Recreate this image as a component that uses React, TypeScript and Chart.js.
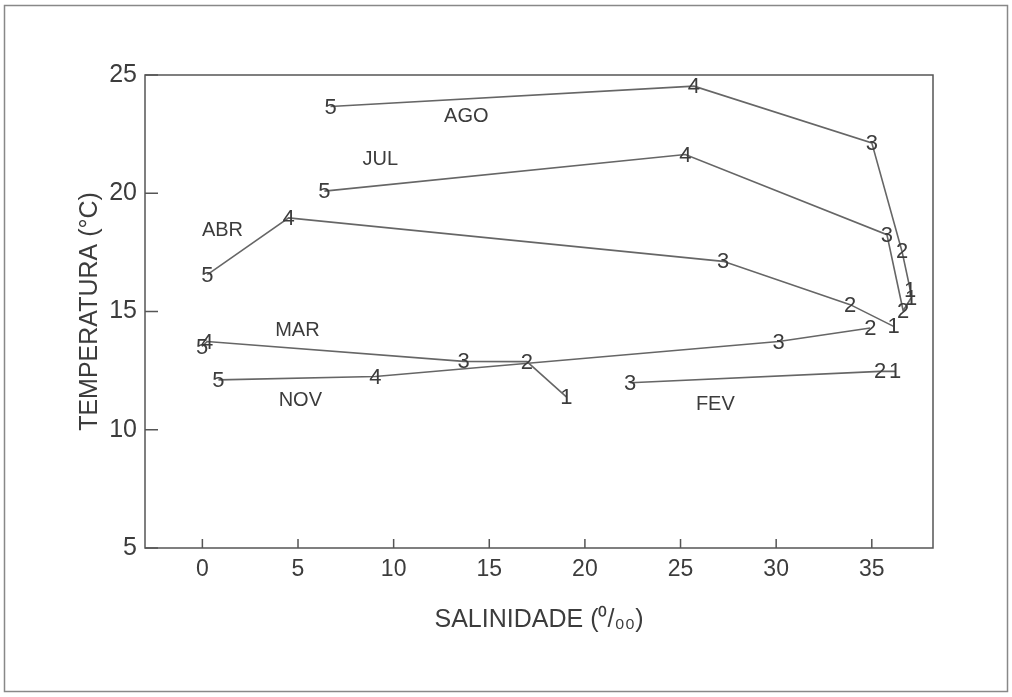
import React, { useEffect, useRef } from "react";
import { Chart, registerables } from "chart.js";

Chart.register(...registerables);

// Month series: salinity (x), temperature (y), station numbers
const AGO_SAL = [6.7, 25.7, 35.0, 36.58, 37.01];
const AGO_TEMP = [23.67, 24.53, 22.13, 17.54, 15.92];
const AGO_ST = ["5", "4", "3", "2", "1"];

const JUL_SAL = [6.38, 25.25, 35.79, 36.64, 37.06];
const JUL_TEMP = [20.09, 21.64, 18.25, 15.03, 15.58];
const JUL_ST = ["5", "4", "3", "2", "1"];

const ABR_SAL = [0.26, 4.51, 27.23, 33.87, 36.14];
const ABR_TEMP = [16.56, 18.96, 17.12, 15.29, 14.37];
const ABR_ST = ["5", "4", "3", "2", "1"];

const MAR_SAL = [-0.02, 0.25, 13.66, 16.97, 19.03];
const MAR_TEMP = [13.52, 13.73, 12.89, 12.88, 11.39];
const MAR_ST = ["5", "4", "3", "2", "1"];

const NOV_SAL = [0.84, 9.04, 30.13, 34.92];
const NOV_TEMP = [12.11, 12.25, 13.73, 14.3];
const NOV_ST = ["5", "4", "3", "2"];

const FEV_SAL = [22.37, 35.44, 36.22];
const FEV_TEMP = [11.99, 12.47, 12.47];
const FEV_ST = ["3", "2", "1"];

const MONTHS = ["AGO", "JUL", "ABR", "MAR", "NOV", "FEV"];
const MONTH_LABEL_SAL = [13.8, 9.3, 1.05, 4.97, 5.12, 26.82];
const MONTH_LABEL_TEMP = [23.24, 21.42, 18.42, 14.19, 11.22, 11.05];

const X_TICKS = [0, 5, 10, 15, 20, 25, 30, 35];
const Y_TICKS = [5, 10, 15, 20, 25];

const X_TITLE = "SALINIDADE (\u2070/\u2080\u2080)";
const Y_TITLE = "TEMPERATURA (\u00B0C)";

const FONT = "'Liberation Sans', Arial, Helvetica, sans-serif";
const INK = "#3c3c3c";
const LINE = "#666";

function pts(xs: number[], ys: number[]) {
  return xs.map((x, i) => ({ x, y: ys[i] }));
}

const decorPlugin = {
  id: "decor",
  beforeDraw(chart: any) {
    const ctx = chart.ctx;
    ctx.save();
    ctx.fillStyle = "#fff";
    ctx.fillRect(0, 0, chart.width, chart.height);
    ctx.strokeStyle = "#888";
    ctx.lineWidth = 1.5;
    ctx.strokeRect(4.5, 5.5, chart.width - 9, chart.height - 11);
    ctx.restore();
  },
  afterDatasetsDraw(chart: any) {
    const ctx = chart.ctx;
    const { left, right, top, bottom } = chart.chartArea;
    const xs = chart.scales.x;
    const ys = chart.scales.y;
    ctx.save();
    // plot frame
    ctx.strokeStyle = "#555";
    ctx.lineWidth = 1.5;
    ctx.strokeRect(left, top, right - left, bottom - top);
    // inward ticks
    ctx.beginPath();
    X_TICKS.forEach((v) => {
      const px = xs.getPixelForValue(v);
      ctx.moveTo(px, bottom);
      ctx.lineTo(px, bottom - 9);
    });
    Y_TICKS.forEach((v) => {
      const py = ys.getPixelForValue(v);
      ctx.moveTo(left, py);
      ctx.lineTo(left + 13, py);
    });
    ctx.stroke();

    // station numbers
    ctx.fillStyle = INK;
    ctx.font = `22px ${FONT}`;
    ctx.textAlign = "center";
    ctx.textBaseline = "middle";
    chart.data.datasets.forEach((ds: any, i: number) => {
      const meta = chart.getDatasetMeta(i);
      meta.data.forEach((el: any, j: number) => {
        ctx.fillText(ds.stations[j], el.x, el.y + 1);
      });
    });

    // month labels
    ctx.font = `20px ${FONT}`;
    MONTHS.forEach((m, i) => {
      ctx.fillText(
        m,
        xs.getPixelForValue(MONTH_LABEL_SAL[i]),
        ys.getPixelForValue(MONTH_LABEL_TEMP[i])
      );
    });
    ctx.restore();
  },
};

export default function App() {
  const ref = useRef<HTMLCanvasElement>(null);

  useEffect(() => {
    const canvas = ref.current;
    if (!canvas) return;
    const mk = (d: any[], st: string[]) => ({
      data: d,
      stations: st,
      showLine: true,
      borderColor: LINE,
      backgroundColor: LINE,
      borderWidth: 1.6,
      pointRadius: 0,
      tension: 0,
    });
    const chart = new Chart(canvas, {
      type: "scatter",
      data: {
        datasets: [
          mk(pts(AGO_SAL, AGO_TEMP), AGO_ST),
          mk(pts(JUL_SAL, JUL_TEMP), JUL_ST),
          mk(pts(ABR_SAL, ABR_TEMP), ABR_ST),
          mk(pts(MAR_SAL, MAR_TEMP), MAR_ST),
          mk(pts(NOV_SAL, NOV_TEMP), NOV_ST),
          mk(pts(FEV_SAL, FEV_TEMP), FEV_ST),
        ] as any,
      },
      options: {
        animation: false,
        responsive: false,
        devicePixelRatio: 1,
        layout: { padding: { top: 75, right: 79, left: 0, bottom: 0 } },
        plugins: {
          legend: { display: false },
          tooltip: { enabled: false },
        },
        scales: {
          x: {
            type: "linear",
            min: -3,
            max: 38.2,
            afterBuildTicks: (s: any) => {
              s.ticks = X_TICKS.map((v) => ({ value: v }));
            },
            afterFit: (s: any) => {
              s.height = 149;
            },
            grid: { display: false, drawTicks: false },
            border: { display: false },
            ticks: {
              color: INK,
              padding: 8,
              font: { family: FONT, size: 23 },
              maxRotation: 0,
            },
            title: {
              display: true,
              text: X_TITLE,
              color: INK,
              font: { family: FONT, size: 25 },
              padding: { top: 0, bottom: 62 },
            },
          },
          y: {
            type: "linear",
            min: 5,
            max: 25,
            afterBuildTicks: (s: any) => {
              s.ticks = Y_TICKS.map((v) => ({ value: v }));
            },
            afterFit: (s: any) => {
              s.width = 145;
            },
            grid: { display: false, drawTicks: false },
            border: { display: false },
            ticks: {
              color: INK,
              padding: 8,
              font: { family: FONT, size: 25 },
            },
            title: {
              display: true,
              text: Y_TITLE,
              color: INK,
              font: { family: FONT, size: 25 },
              padding: { top: 75, bottom: 0 },
            },
          },
        },
      },
      plugins: [decorPlugin],
    } as any);
    return () => chart.destroy();
  }, []);

  return (
    <div style={{ position: "absolute", left: 0, top: 0, width: 1012, height: 697, background: "#fff" }}>
      <canvas ref={ref} width={1012} height={697} style={{ display: "block" }} />
    </div>
  );
}
